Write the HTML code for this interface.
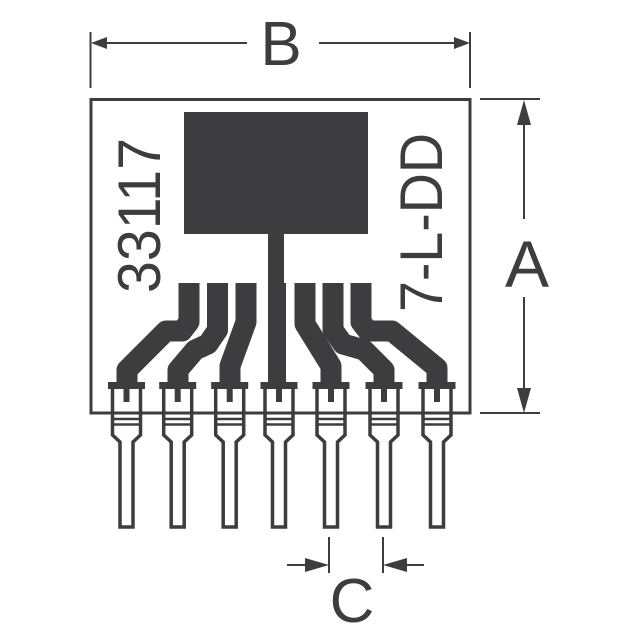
<!DOCTYPE html>
<html><head><meta charset="utf-8"><style>
html,body{margin:0;padding:0;background:#fff;}
svg{display:block;}
text{font-family:"Liberation Sans",sans-serif;fill:#3d3d3f;}
</style></head><body>
<svg width="640" height="640" viewBox="0 0 640 640" xmlns="http://www.w3.org/2000/svg">
<g stroke="#3d3d3f" fill="none">
  <!-- B dimension -->
  <line x1="90.5" y1="32" x2="90.5" y2="88" stroke-width="2"/>
  <line x1="470" y1="32" x2="470" y2="88" stroke-width="2"/>
  <line x1="105" y1="43" x2="247" y2="43" stroke-width="2"/>
  <line x1="319" y1="43" x2="455" y2="43" stroke-width="2"/>
  <!-- A dimension -->
  <line x1="480" y1="99" x2="540" y2="99" stroke-width="2"/>
  <line x1="480" y1="413" x2="540" y2="413" stroke-width="2"/>
  <line x1="524" y1="120" x2="524" y2="219" stroke-width="2"/>
  <line x1="524" y1="297" x2="524" y2="392" stroke-width="2"/>
  <!-- C dimension -->
  <line x1="329" y1="537" x2="329" y2="573" stroke-width="2"/>
  <line x1="383" y1="537" x2="383" y2="573" stroke-width="2"/>
  <line x1="287" y1="565" x2="315" y2="565" stroke-width="2"/>
  <line x1="397" y1="565" x2="424" y2="565" stroke-width="2"/>
  <!-- body -->
  <rect x="91" y="99.5" width="379" height="313.5" stroke-width="3"/>
</g>
<g fill="#3d3d3f">
  <polygon points="91,43 107,37 107,49"/>
  <polygon points="470,43 454,37 454,49"/>
  <polygon points="524,100 517,125 531,125"/>
  <polygon points="524,413 517,388 531,388"/>
  <polygon points="329,565 305,558 305,572"/>
  <polygon points="383,565 407,558 407,572"/>
  <!-- paddle -->
  <rect x="184" y="112" width="184" height="122"/>
  <rect x="268" y="232" width="16" height="55"/>
</g>
<!-- traces -->
<g stroke="#3d3d3f" stroke-width="21" fill="none" stroke-linejoin="round">
  <polyline points="189,283 189,322 182,331 166,331 127,370 127,385"/>
  <polyline points="217.5,283 217.5,330 208,344 195,350 178,370 178,385"/>
  <polyline points="246,283 246,322 230,366 230,385"/>
  <polyline points="277,283 277,385" stroke-width="18"/>
  <polyline points="305,283 305,324 331,366 331,385"/>
  <polyline points="333,283 333,330 343,344 364,350 384,370 384,385"/>
  <polyline points="361,283 361,322 368,331 392,331 437,368 437,385"/>
</g>
<!-- pins -->
<g id="pins">
  <g transform="translate(126.5,0)">
    <rect x="-18.5" y="382" width="37" height="7" fill="#3d3d3f"/>
    <rect x="-3" y="388" width="6" height="14" fill="#3d3d3f"/>
    <path d="M-14,389 V435 L-6.5,442 V527 H6.5 V442 L14,435 V389" fill="none" stroke="#3d3d3f" stroke-width="3.5"/>
    <line x1="-14" y1="419" x2="14" y2="419" stroke="#3d3d3f" stroke-width="2.5"/>
    <line x1="-14" y1="424.5" x2="14" y2="424.5" stroke="#3d3d3f" stroke-width="2.5"/>
  </g>
</g>
<use href="#pins" transform="translate(51.2,0)"/>
<use href="#pins" transform="translate(103.2,0)"/>
<use href="#pins" transform="translate(152.5,0)"/>
<use href="#pins" transform="translate(204.5,0)"/>
<use href="#pins" transform="translate(257.5,0)"/>
<use href="#pins" transform="translate(310.5,0)"/>
<!-- labels -->
<text x="281" y="65" font-size="62" text-anchor="middle">B</text>
<text x="527" y="287" font-size="66" text-anchor="middle">A</text>
<text x="352" y="622" font-size="62" text-anchor="middle">C</text>
<text transform="translate(160,293) rotate(-90)" font-size="60" textLength="155" lengthAdjust="spacingAndGlyphs">33117</text>
<text transform="translate(442,312) rotate(-90)" font-size="60" textLength="179" lengthAdjust="spacingAndGlyphs">7-L-DD</text>
</svg>
</body></html>
